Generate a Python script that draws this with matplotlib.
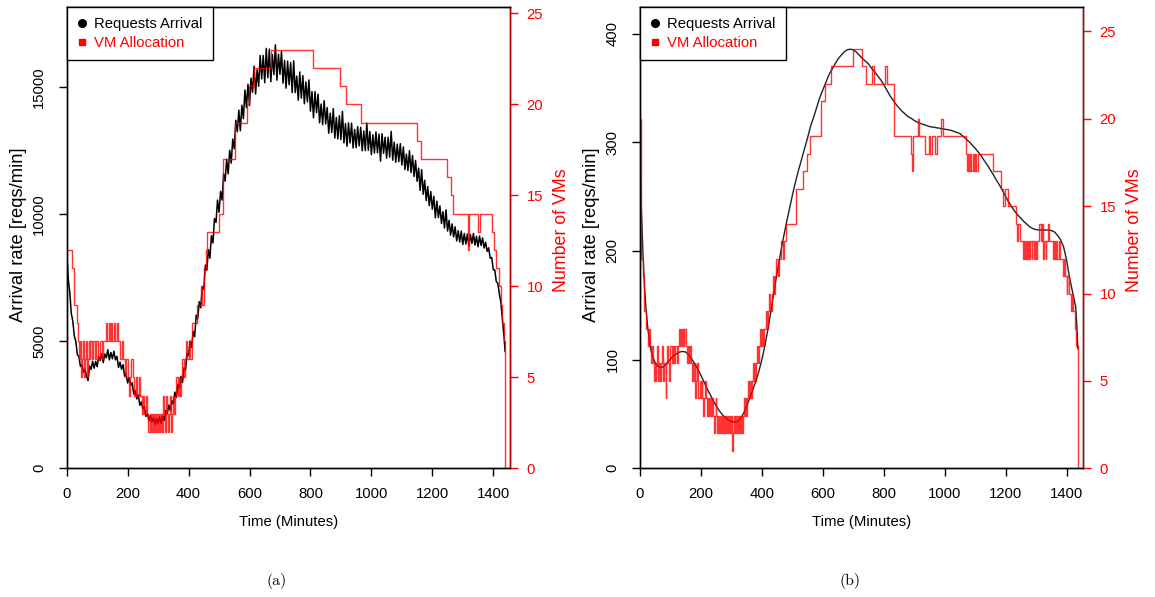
import numpy as np
import matplotlib
matplotlib.use('Agg')
import matplotlib.pyplot as plt
from matplotlib.lines import Line2D

plt.rcParams['font.family'] = ['Liberation Sans', 'DejaVu Sans']

# (a) arrival rate, one value every 5 minutes (0..1435) + last minute
arrival_a = [
    8600, 7450, 6950, 6100, 5800, 5200, 4990, 4470, 4400, 4010, 4080, 3780,
    3900, 3630, 3450, 4030, 3890, 4210, 3940, 4210, 4000, 4410, 4240, 4510,
    4160, 4500, 4350, 4670, 4270, 4560, 4310, 4610, 4270, 4410, 3970, 4180,
    3900, 4080, 3630, 3720, 3360, 3570, 3270, 3370, 2920, 3060, 2730, 2890,
    2480, 2610, 2330, 2430, 2045, 2150, 1870, 2080, 1830, 2000, 1730, 1950,
    1770, 2020, 1770, 2040, 1880, 2280, 2140, 2490, 2270, 2670, 2520, 3000,
    2790, 3310, 3170, 3620, 3380, 3950, 3870, 4530, 4440, 5010, 4760, 5390,
    5180, 6030, 5880, 6560, 6320, 7140, 7050, 8000, 7800, 8610, 8270, 9160,
    8870, 9830, 9680, 10560, 10080, 10900, 10560, 11600, 11300, 12160, 11590, 12520,
    12015, 12960, 12580, 13700, 13250, 14100, 13290, 14290, 13770, 14890, 14200, 15120,
    14280, 15360, 14800, 15830, 14735, 15690, 15040, 16250, 15330, 16250, 15180, 16530,
    15380, 16500, 15220, 16285, 15495, 16670, 15280, 16300, 15510, 16410, 15160, 16060,
    14965, 16030, 15100, 15970, 14790, 16040, 14790, 15440, 14490, 15600, 14570, 15460,
    14350, 15210, 14430, 15290, 14060, 14830, 13800, 14830, 14000, 14730, 13600, 14340,
    13530, 14470, 13560, 14200, 13190, 13980, 13220, 14160, 13000, 13810, 12970, 13880,
    12940, 14050, 12810, 13570, 12680, 13595, 12810, 13585, 12610, 13340, 12620, 13455,
    12690, 13420, 12500, 13280, 12510, 13590, 12520, 13260, 12350, 13130, 12410, 13240,
    12420, 13155, 12090, 13170, 12400, 13030, 12210, 13030, 12250, 13265, 12130, 12840,
    12050, 12760, 12070, 12780, 11940, 12650, 11760, 12365, 11720, 12505, 11640, 12315,
    11490, 12120, 11300, 11820, 10940, 11760, 10785, 11340, 10540, 11090, 10340, 10895,
    10200, 10705, 9860, 10515, 9870, 10330, 9640, 10100, 9460, 10175, 9340, 9760,
    9180, 9620, 9110, 9505, 8950, 9355, 8910, 9335, 8810, 9245, 8830, 9220,
    8760, 9205, 8850, 9245, 8790, 9130, 8720, 9145, 8770, 9070, 8670, 8900,
    8540, 8680, 8270, 8300, 7820, 7810, 7350, 7290, 6870, 6530, 5880, 5240,
    4600]
time_a = list(range(0, 1440, 5)) + [1439]

# (a) VM allocation steps: (start minute, number of VMs)
vms_a = [
    (0, 12), (16, 11), (24, 9), (33, 8), (38, 7),
    (42, 6), (45, 7), (48, 5), (51, 6), (54, 7), (57, 5), (60, 6), (63, 7), (66, 5),
    (69, 6), (72, 7), (75, 6), (78, 7), (82, 6), (86, 7), (92, 6), (96, 7), (104, 6),
    (108, 7), (116, 6), (120, 7),
    (128, 8), (132, 7), (138, 8), (142, 7), (146, 8), (150, 7), (156, 8), (160, 7),
    (166, 8), (170, 7), (176, 6), (180, 7), (186, 6),
    (192, 5), (196, 6), (200, 5), (204, 4), (208, 5), (212, 6), (216, 5), (220, 4),
    (226, 5), (230, 4), (236, 5), (240, 4), (246, 3), (250, 4), (255, 3), (260, 4), (264, 3),
    (268, 2), (272, 3), (275, 2), (278, 3), (281, 2), (284, 3), (288, 2), (291, 3),
    (294, 2), (298, 3), (301, 2), (304, 3), (307, 2), (311, 3), (314, 2), (317, 4),
    (320, 3), (323, 2), (326, 4), (329, 3), (332, 2), (335, 3), (338, 4), (341, 2), (344, 3),
    (348, 4), (352, 3), (356, 4), (360, 5), (364, 4), (368, 5), (372, 4), (376, 5),
    (380, 6), (384, 5), (388, 6), (392, 7), (396, 6), (400, 7), (404, 6), (410, 8),
    (429, 9), (440, 10), (444, 9), (451, 11), (458, 12), (461, 13), (501, 14), (514, 17),
    (552, 19), (591, 20), (599, 21), (615, 22), (669, 23), (809, 22), (897, 21), (917, 20),
    (965, 19), (1151, 18), (1162, 17), (1247, 16), (1260, 15), (1269, 14), (1318, 12),
    (1322, 14), (1350, 13), (1355, 14), (1395, 13), (1403, 12), (1410, 11), (1418, 10),
    (1425, 9), (1430, 8), (1434, 7), (1438, 0), (1440, 0)]

# (b) arrival rate (smooth)
time_b = [0, 5, 10, 15, 20, 25, 30, 35, 40] + list(range(50, 1430, 10)) + [1425, 1430, 1434, 1437]
arrival_b = [
    280, 235, 195, 166, 146, 131, 119, 110, 104,
    97, 93.5, 92.5, 94, 97, 100.5, 103.5, 105.5, 107, 107.5,
    107, 104.5, 100.5, 96, 91, 85.5, 79.5, 73.5, 68, 62.5,
    57.5, 53, 49.5, 46.5, 44.5, 43, 42.5, 43, 46, 50.5,
    57, 64.5, 72, 80, 89, 100, 113, 128, 145, 163,
    180, 196, 211, 225, 238, 251, 263, 274, 284, 294,
    304, 315, 323, 332, 341, 348, 355, 362, 367, 372,
    376.5, 380, 383, 385, 385.6, 385, 383, 380, 377, 374.5,
    372, 368, 365, 361, 357.5, 353, 348, 343, 339, 335,
    331.5, 328.5, 326, 323.5, 322, 320, 318.5, 317.3, 316.3, 315.3,
    314.4, 314, 313.5, 313, 312.5, 312, 311.5, 311, 310, 309,
    308, 305.5, 303, 300.5, 297.5, 294.5, 291, 287.5, 283, 279,
    274.5, 270, 265, 260.5, 255.5, 250, 245, 240.5, 236.5, 233,
    230, 227, 224.5, 222, 220.5, 219.5, 219.3, 219.2, 219.2, 219.2,
    218.8, 217.5, 214.5, 210.5, 204, 192, 175, 162,
    155, 149, 130, 110]

vms_b = [
    (0, 20), (2, 16), (4, 12), (10, 11), (14, 9), (20, 8), (26, 7), (30, 8), (33, 7),
    (36, 6), (39, 7), (42, 6), (45, 5), (48, 6), (51, 5), (54, 6), (57, 7), (60, 5),
    (63, 6), (66, 5), (69, 6), (72, 7), (75, 5), (78, 6), (84, 4), (85, 6), (88, 7),
    (91, 6), (94, 5), (97, 6), (100, 7), (104, 6), (108, 7), (112, 6), (116, 7), (120, 6),
    (124, 7), (128, 8), (131, 7), (134, 8), (137, 7), (140, 8), (143, 7), (146, 8),
    (150, 7), (153, 6), (156, 7), (160, 6), (163, 7), (166, 6), (170, 5), (173, 6),
    (176, 5), (179, 6), (182, 4), (183, 5), (186, 6), (189, 5), (192, 4), (196, 5),
    (199, 4), (202, 5), (205, 4), (208, 3), (210, 4), (214, 5), (217, 4), (220, 3),
    (224, 4), (227, 3), (230, 4), (234, 3), (237, 4), (240, 3), (243, 2), (246, 3),
    (249, 4), (251, 3), (254, 2), (257, 3), (260, 2), (263, 3), (266, 2), (269, 3),
    (272, 2), (275, 3), (278, 2), (281, 3), (284, 2), (287, 3), (290, 2), (293, 3),
    (296, 2), (299, 3), (302, 1), (304, 2), (307, 3), (310, 2), (313, 3), (316, 2),
    (319, 3), (322, 2), (325, 3), (328, 2), (331, 3), (334, 2), (337, 3), (340, 4),
    (343, 3), (346, 4), (349, 3), (352, 4), (355, 5), (358, 4), (361, 5), (364, 4),
    (367, 5), (370, 6), (373, 5), (376, 6), (379, 5), (382, 6), (385, 7), (388, 6),
    (391, 7), (394, 8), (397, 7), (400, 8), (404, 7), (408, 8), (412, 9), (416, 8),
    (420, 9), (424, 10), (428, 9), (432, 10), (436, 11), (440, 10), (444, 11), (448, 12),
    (452, 11), (455, 12), (462, 13), (468, 12), (471, 13), (478, 14), (513, 16), (535, 17),
    (548, 18), (557, 19), (595, 21), (606, 22), (628, 23), (699, 24), (730, 23), (741, 22),
    (760, 23), (769, 22), (805, 23), (811, 22), (833, 19), (890, 18), (893, 17), (896, 19),
    (912, 20), (917, 19), (937, 18), (948, 19), (953, 18), (959, 19), (967, 18), (974, 19),
    (989, 20), (994, 19), (1070, 18), (1074, 17), (1077, 18), (1080, 17), (1084, 18),
    (1088, 17), (1092, 18), (1096, 17), (1100, 18), (1104, 17), (1108, 18), (1158, 17),
    (1185, 16), (1192, 15), (1198, 16), (1208, 15), (1234, 14), (1238, 13), (1242, 14),
    (1246, 13), (1256, 12), (1259, 13), (1263, 12), (1266, 13), (1270, 12), (1273, 13),
    (1277, 12), (1281, 13), (1285, 12), (1288, 13), (1292, 12), (1296, 13), (1300, 12),
    (1304, 13), (1311, 14), (1315, 13), (1319, 14), (1323, 12), (1326, 13), (1331, 12),
    (1334, 13), (1339, 14), (1343, 13), (1354, 12), (1358, 13), (1362, 12), (1366, 13),
    (1370, 12), (1375, 13), (1379, 12), (1387, 11), (1391, 12), (1395, 11), (1400, 10),
    (1403, 11), (1409, 10), (1414, 9), (1418, 10), (1422, 9), (1428, 8), (1432, 7),
    (1436, 0), (1440, 0)]

x_ticks = [0, 200, 400, 600, 800, 1000, 1200, 1400]
vm_ticks = [0, 5, 10, 15, 20, 25]

W, H = 1155, 597
fig = plt.figure(figsize=(W / 100, H / 100), dpi=100)

TL = 5.8  # tick length in points
FS = 10.7


def panel(left_px, t, arr, arr_color, arr_lw, vms, ylim, yticks, vmlim, cap):
    ax = fig.add_axes([left_px / W, 1 - 468.3 / H, 443.3 / W, 461.3 / H])
    ax.plot(t, arr, color=arr_color, lw=arr_lw)
    ax.set_xlim(0, 1455)
    ax.set_ylim(*ylim)
    ax.set_xticks(x_ticks, [str(v) for v in x_ticks])
    ax.set_yticks(yticks, [str(v) for v in yticks], rotation=90, va='center')
    ax.tick_params(axis='x', length=TL, width=1, pad=8, labelsize=FS)
    ax.tick_params(axis='y', length=TL, width=1, pad=9, labelsize=FS)
    for s in ax.spines.values():
        s.set_linewidth(1)

    ax2 = ax.twinx()
    vt, vn = zip(*vms)
    ax2.step(vt, vn, where='post', color='red', alpha=0.8, lw=1)
    ax2.set_ylim(*vmlim)
    ax2.set_yticks(vm_ticks, [str(v) for v in vm_ticks])
    ax2.tick_params(axis='y', length=TL, width=1, pad=6, labelsize=FS,
                    colors='red')
    for s in ax2.spines.values():
        s.set_linewidth(1)
    ax2.spines['right'].set_color('#c00000')

    handles = [Line2D([], [], marker='o', color='black', ls='none', markersize=5.5),
               Line2D([], [], marker='s', color='red', ls='none', markersize=5)]
    leg = ax2.legend(handles, ['Requests Arrival', 'VM Allocation'], loc='upper left',
                     bbox_to_anchor=(0, 1), borderaxespad=0, fancybox=False,
                     edgecolor='black', framealpha=1, fontsize=FS, handlelength=0.6,
                     handletextpad=0.55, borderpad=0.7, labelspacing=0.3)
    leg.get_frame().set_linewidth(1)
    leg.get_texts()[1].set_color('red')

    cx = left_px + 443.3 / 2
    fig.text((left_px - 48.5) / W, 1 - 235 / H, 'Arrival rate [reqs/min]', rotation=90,
             ha='center', va='center', fontsize=13.2)
    fig.text((left_px + 494.5) / W, 1 - 230 / H, 'Number of VMs', rotation=90,
             ha='center', va='center', fontsize=12.8, color='red')
    fig.text(cx / W, 1 - 522 / H, 'Time (Minutes)', ha='center', va='center', fontsize=FS)
    fig.text((cx - 12) / W, 1 - 581 / H, cap, ha='center', va='center', fontsize=11.5,
             family='cmr10')
    return ax, ax2


panel(66.7, time_a, arrival_a, 'black', 1.1, vms_a, (0, 18160),
      [0, 5000, 10000, 15000], (0, 25.35), '(a)')
panel(640, time_b, arrival_b, '#222222', 1.0, vms_b, (0, 424.4),
      [0, 100, 200, 300, 400], (0, 26.4), '(b)')

fig.savefig('out.png', dpi=100)
